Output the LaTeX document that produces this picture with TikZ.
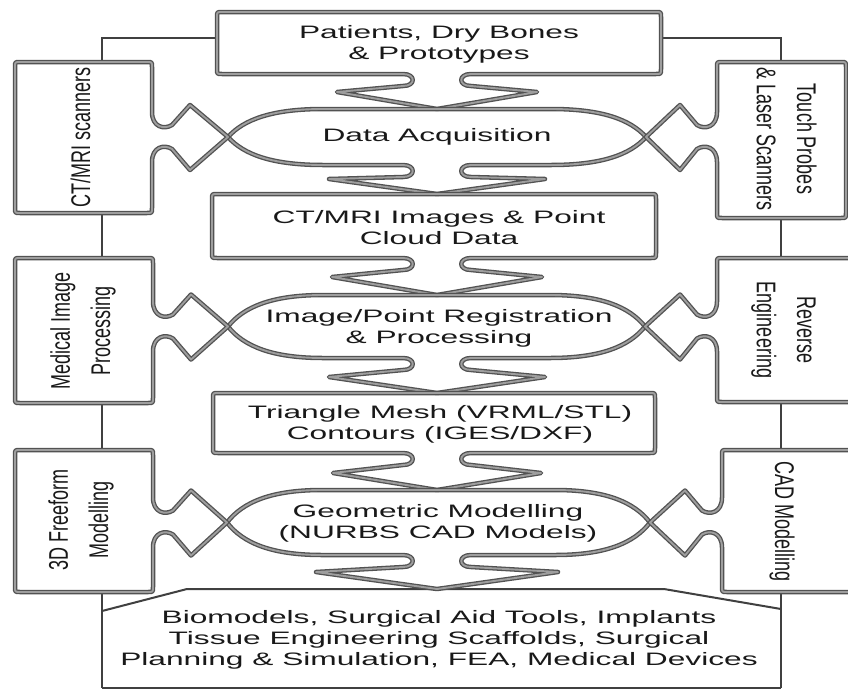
\documentclass[tikz,border=0pt]{standalone}
\usepackage{fontspec}
\setmainfont{Liberation Sans}
\usepackage{graphicx}

% wide horizontal labels and tall rotated labels
\newcommand{\htext}[1]{\scalebox{1.76}[1]{\fontsize{18}{21}\selectfont\begin{tabular}{@{}c@{}}#1\end{tabular}}}
\newcommand{\vtextL}[1]{\rotatebox{90}{\scalebox{1}[1.5]{\fontsize{18}{26.7}\selectfont\begin{tabular}{@{}c@{}}#1\end{tabular}}}}
\newcommand{\vtextR}[1]{\rotatebox{-90}{\scalebox{1}[1.5]{\fontsize{18}{26.7}\selectfont\begin{tabular}{@{}c@{}}#1\end{tabular}}}}

% downward arrow tab on a bottom edge, traversed left to right
% #1 centre x, #2 edge y, #3 half width, #4 drop of side points, #5 drop of tip
\newcommand{\downtab}[5]{%
 -- ({#1-34},#2) .. controls ({#1-21},#2) and ({#1-21},{#2+12}) .. ({#1-34},{#2+12})
 -- ({#1-#3},{#2+#4}) -- (#1,{#2+#5}) -- ({#1+#3},{#2+#4})
 -- ({#1+34},{#2+12}) .. controls ({#1+21},{#2+12}) and ({#1+21},#2) .. ({#1+34},#2)}

% rounded box with a tab on its bottom edge: x1,y1,x2,y2, tab cx, W, f, d
\newcommand{\tabbox}[8]{%
 \draw[outl] ({#3-5},#2) -- ({#1+5},#2) .. controls (#1,#2) .. (#1,{#2+5})
  -- (#1,{#4-5}) .. controls (#1,#4) .. ({#1+5},#4)
  \downtab{#5}{#4}{#6}{#7}{#8}
  -- ({#3-5},#4) .. controls (#3,#4) .. (#3,{#4-5})
  -- (#3,{#2+5}) .. controls (#3,#2) .. ({#3-5},#2) -- cycle;}

% pointed ellipse with a tab on its bottom: xl, xr, top, bottom, tab cx, W, f, d
\newcommand{\lens}[8]{%
 \draw[outl] (#1,{(#3+#4)/2})
  .. controls ({#1+16},{(#3+#4)/2+0.32*(#4-#3)}) and ({#1+45},#4) .. ({#1+95},#4)
  \downtab{#5}{#4}{#6}{#7}{#8}
  -- ({#2-95},#4) .. controls ({#2-45},#4) and ({#2-16},{(#3+#4)/2+0.32*(#4-#3)}) .. (#2,{(#3+#4)/2})
  .. controls ({#2-16},{(#3+#4)/2-0.32*(#4-#3)}) and ({#2-45},#3) .. ({#2-95},#3)
  -- ({#1+95},#3) .. controls ({#1+45},#3) and ({#1+16},{(#3+#4)/2-0.32*(#4-#3)}) .. (#1,{(#3+#4)/2}) -- cycle;}

% side box on the left, tab on its right edge: x1,y1,x2,y2, centre y, tip x
\newcommand{\lbox}[6]{%
 \draw[outl] ({#1+5},#2) -- ({#3-5},#2) .. controls (#3,#2) .. (#3,{#2+5})
  -- (#3,{#5-25}) .. controls (#3,{#5-10}) and ({#3+12},{#5-7}) .. ({#3+20},{#5-12})
  -- ({#3+38},{#5-32}) -- (#6,#5) -- ({#3+38},{#5+33}) -- ({#3+20},{#5+12})
  .. controls ({#3+12},{#5+7}) and (#3,{#5+10}) .. (#3,{#5+25})
  -- (#3,{#4-5}) .. controls (#3,#4) .. ({#3-5},#4) -- ({#1+5},#4)
  .. controls (#1,#4) .. (#1,{#4-5}) -- (#1,{#2+5}) .. controls (#1,#2) .. ({#1+5},#2) -- cycle;}

% side box on the right, tab on its left edge: x1,y1,x2,y2, centre y, tip x
\newcommand{\rbox}[6]{%
 \draw[outl] ({#3-5},#2) -- ({#1+5},#2) .. controls (#1,#2) .. (#1,{#2+5})
  -- (#1,{#5-25}) .. controls (#1,{#5-10}) and ({#1-12},{#5-7}) .. ({#1-20},{#5-12})
  -- ({#1-37},{#5-32}) -- (#6,#5) -- ({#1-37},{#5+33}) -- ({#1-20},{#5+12})
  .. controls ({#1-12},{#5+7}) and (#1,{#5+10}) .. (#1,{#5+25})
  -- (#1,{#4-5}) .. controls (#1,#4) .. ({#1+5},#4) -- ({#3-5},#4)
  .. controls (#3,#4) .. (#3,{#4-5}) -- (#3,{#2+5}) .. controls (#3,#2) .. ({#3-5},#2) -- cycle;}

\begin{document}
\begin{tikzpicture}[x=1pt,y=-1pt,
  outl/.style={draw=black!68, double=black!38, line width=1.3pt, double distance=1.9pt, line join=round},
  thinframe/.style={draw=black!75, line width=2pt, line join=miter},
  lbl/.style={inner sep=0pt, text=black!90}]
\useasboundingbox[fill=white] (0,0) rectangle (848,691);

% frame junctions
\coordinate (T-w) at (217,38);
\coordinate (T-e) at (661,38);
\coordinate (L1-n) at (102,62);
\coordinate (L1-s) at (102,213);
\coordinate (L2-n) at (102,258);
\coordinate (L2-s) at (102,403);
\coordinate (L3-n) at (102,450);
\coordinate (L3-s) at (102,592);
\coordinate (R1-n) at (781,62);
\coordinate (R1-s) at (781,218);
\coordinate (R2-n) at (781,258);
\coordinate (R2-s) at (781,402);
\coordinate (R3-n) at (781,450);
\coordinate (R3-s) at (781,592);
\coordinate (O-sw) at (102,688);
\coordinate (O-se) at (781,688);
\coordinate (O-w) at (102,611);
\coordinate (O-nw) at (187,589);
\coordinate (O-ne) at (664,589);
\coordinate (O-e) at (781,609);

% thin frame and the output box
\draw[thinframe] (T-w) -| (L1-n);
\draw[thinframe] (T-e) -| (R1-n);
\draw[thinframe] (L1-s) -- (L2-n);
\draw[thinframe] (L2-s) -- (L3-n);
\draw[thinframe] (R1-s) -- (R2-n);
\draw[thinframe] (R2-s) -- (R3-n);
\draw[thinframe] (L3-s) -- (O-sw);
\draw[thinframe] (R3-s) -- (O-se);
\draw[thinframe] (O-w) -- (O-nw) -- (O-ne) -- (O-e);
\draw[thinframe, line width=2.6pt] (O-sw) -- (O-se);

% central chain
\tabbox{217}{12}{661}{74}{437}{100}{18}{35}
\lens{228}{646}{109}{165}{437}{108}{14}{29}
\tabbox{212}{194}{656}{258}{437}{105}{19}{37}
\lens{228}{645}{295}{358}{437}{108}{19}{35}
\tabbox{213}{393}{655}{453}{437}{104}{20}{37}
\lens{227}{650}{490}{555}{437}{121}{17}{34}

% side inputs
\lbox{15}{62}{152}{213}{137}{228}
\lbox{15}{258}{153}{403}{326.5}{228}
\lbox{15}{450}{153}{592}{522.5}{227}
\rbox{717}{62}{846}{218}{137}{646}
\rbox{717}{258}{853}{402}{326.5}{645}
\rbox{722}{450}{853}{592}{522.5}{650}

% labels
\node[lbl] (src) at (439,44.6) {\htext{Patients, Dry Bones\\\& Prototypes}};
\node[lbl] (acq) at (437,137.6) {\htext{Data Acquisition}};
\node[lbl] (img) at (439,229.3) {\htext{CT/MRI Images \& Point\\Cloud Data}};
\node[lbl] (reg) at (439,328.3) {\htext{Image/Point Registration\\\& Processing}};
\node[lbl] (mesh) at (440,424.8) {\htext{Triangle Mesh (VRML/STL)\\Contours (IGES/DXF)}};
\node[lbl] (geo) at (438,523.3) {\htext{Geometric Modelling\\(NURBS CAD Models)}};
\node[lbl] (out) at (439,640) {\htext{Biomodels, Surgical Aid Tools, Implants\\Tissue Engineering Scaffolds, Surgical\\Planning \& Simulation, FEA, Medical Devices}};

\node[lbl] (scan) at (82,137.5) {\vtextL{CT/MRI scanners}};
\node[lbl] (mip) at (82,331) {\vtextL{Medical Image\\Processing}};
\node[lbl] (ffm) at (80,520) {\vtextL{3D Freeform\\Modelling}};
\node[lbl] (touch) at (785,139) {\vtextR{Touch Probes\\\& Laser Scanners}};
\node[lbl] (rev) at (785,330) {\vtextR{Reverse\\Engineering}};
\node[lbl] (cad) at (783,521.5) {\vtextR{CAD Modelling}};
\end{tikzpicture}
\end{document}
